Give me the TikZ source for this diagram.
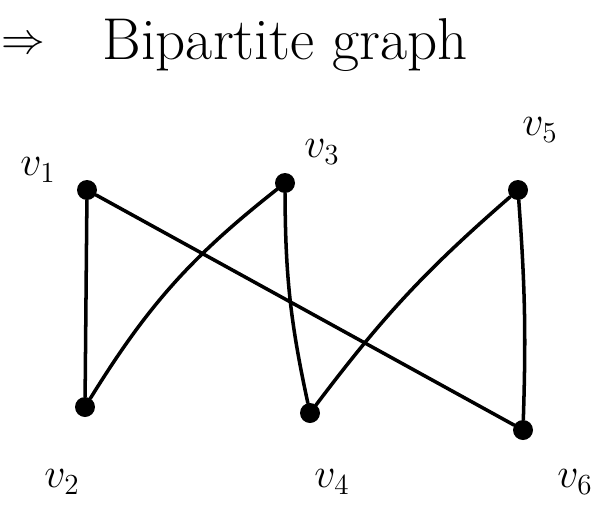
\documentclass[tikz,border=0pt]{standalone}
\usepackage{amsmath,amssymb}
\usetikzlibrary{arrows.meta,positioning}

\begin{document}
\begin{tikzpicture}[x=0.02cm,y=-0.02cm,line cap=round,
  vtx/.style={circle,fill=black,inner sep=0pt,minimum size=0.4cm},
  vlab/.style={font=\huge,scale=1.15},
  edge/.style={line width=2pt}]
  \useasboundingbox (0,0) rectangle (612,528);
  \node[font=\Huge,scale=1.35] (title) at (285,45) {Bipartite graph};
  \node[font=\Huge,anchor=west,inner sep=0pt] (arr) at (1,45) {$\Rightarrow$};
  % vertices
  \node[vtx] (v1) at (87,190) {};
  \node[vtx] (v3) at (285,183) {};
  \node[vtx] (v5) at (518,190) {};
  \node[vtx] (v2) at (85,407) {};
  \node[vtx] (v4) at (310,413) {};
  \node[vtx] (v6) at (523,430) {};
  \node[vlab] (l1) at (38,170) {$v_1$};
  \node[vlab] (l3) at (322,152) {$v_3$};
  \node[vlab] (l5) at (540,130) {$v_5$};
  \node[vlab] (l2) at (62,482) {$v_2$};
  \node[vlab] (l4) at (332,482) {$v_4$};
  \node[vlab] (l6) at (575,482) {$v_6$};
  % edges
  \draw[edge] (v1)--(v2);
  \draw[edge] (v1)--(v6);
  \draw[edge] (v2) to[bend left=10] (v3);
  \draw[edge] (v3) to[bend right=6] (v4);
  \draw[edge] (v4) to[bend left=6] (v5);
  \draw[edge] (v5) to[bend left=3] (v6);
\end{tikzpicture}
\end{document}
